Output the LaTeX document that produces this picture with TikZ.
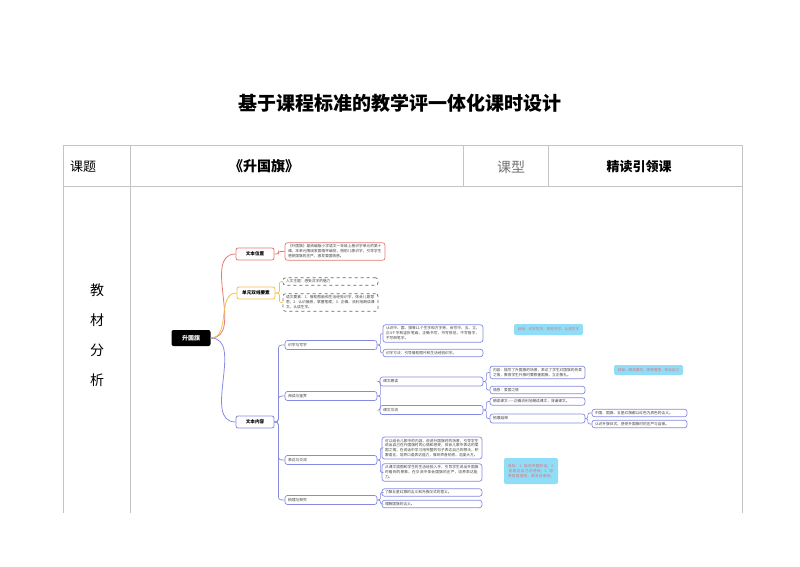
\documentclass[tikz,border=0pt]{standalone}
\usepackage{fontspec}
\setmainfont{Noto Sans CJK SC}
\usepackage{xcolor}
\usepackage{tikz}
\usetikzlibrary{positioning,calc}
\XeTeXlinebreaklocale "zh"
\XeTeXlinebreakskip = 0pt plus 1pt

\definecolor{branchred}{HTML}{E57A72}
\definecolor{branchyellow}{HTML}{F2C24B}
\definecolor{branchblue}{HTML}{858BE0}
\definecolor{notecyan}{HTML}{8FDDF7}
\definecolor{notetext}{HTML}{E0707A}
\definecolor{gridgray}{HTML}{C4C4C4}

\begin{document}
\begin{tikzpicture}[
  x=1pt, y=-1pt,
  every node/.style={inner sep=0pt},
  hdcell/.style={font=\fontsize{13}{15}\selectfont},
  maptopic/.style={draw, rounded corners=2pt, fill=white, line width=0.8pt,
    minimum width=38pt, minimum height=12pt,
    font=\bfseries\fontsize{4.6}{5}\selectfont},
  mapsub/.style={draw=branchblue, rounded corners=2.5pt, fill=white,
    line width=0.7pt, minimum height=9pt, text width=#1, align=left,
    inner xsep=3pt, font=\fontsize{3.8}{4.5}\selectfont, text=black!75},
  mapleaf/.style={draw=branchblue, rounded corners=2.5pt, fill=white,
    line width=0.7pt, text width=#1, align=left, inner xsep=3pt,
    inner ysep=2pt, font=\fontsize{3.7}{5}\selectfont, text=black!75},
  mapnote/.style={fill=notecyan, rounded corners=2pt, text=notetext,
    align=center, inner sep=2pt, font=\fontsize{3.6}{4.8}\selectfont},
  maplink/.style={draw=branchblue, line width=0.7pt, rounded corners=2pt}
]
\useasboundingbox (0,0) rectangle (800,566);

% title and table
\node[font=\bfseries\fontsize{19}{22}\selectfont] (title) at (400,103)
  {基于课程标准的教学评一体化课时设计};
\draw[gridgray, line width=0.6pt]
  (63,145) -- (742,145) (63,186) -- (742,186)
  (63,145) -- (63,513) (130,145) -- (130,513) (742,145) -- (742,513)
  (463,145) -- (463,186) (548,145) -- (548,186);
\node[hdcell] (hdtopic) at (83,167) {课题};
\node[hdcell, font=\bfseries\fontsize{14}{16}\selectfont] (hdname) at (264,166) {《升国旗》};
\node[hdcell, text=black!55, font=\fontsize{14}{16}\selectfont] (hdtype) at (511,167) {课型};
\node[hdcell, font=\bfseries\fontsize{13}{15}\selectfont] (hdkind) at (639,167) {精读引领课};
\node[align=center, font=\fontsize{14}{30}\selectfont] (hdside) at (97,335)
  {教\\材\\分\\析};

% mind map
\node[fill=black, text=white, rounded corners=2pt, minimum width=39pt,
  minimum height=16pt, font=\bfseries\fontsize{6}{7}\selectfont] (root) at (191,338) {升国旗};

\node[maptopic, draw=branchred] (pos) at (255,254) {文本位置};
\node[maptopic, draw=branchyellow] (dual) at (256,293) {单元双线要素};
\node[maptopic, draw=branchblue] (ctx) at (255,422) {文本内容};

\draw[branchred, line width=0.8pt] (root.east) to[out=0, in=180] (pos.west);
\draw[branchyellow, line width=0.8pt] (root.east) to[out=0, in=180] (dual.west);
\draw[branchblue, line width=0.8pt] (root.east) to[out=0, in=180] (ctx.west);

\node[mapleaf=94, draw=branchred] (posleaf) at (335,251.5)
  {《升国旗》是统编版小学语文一年级上册识字单元的第十课。本单元围绕家国情怀编排，借助儿歌识字，引导学生感受国旗的庄严，激发爱国情感。};
\node[mapleaf=89, draw=black!60, dashed] (dualA) at (330.5,281.5)
  {人文主题：感受汉字的魅力};
\node[mapleaf=89, draw=black!60, dashed] (dualB) at (330.5,302.5)
  {语文要素：1. 借助图画和生活经验识字，体会儿歌意思；2. 认识偏旁，掌握笔顺；3. 正确、流利地朗读课文，认读生字。};

\draw[branchred, line width=0.7pt, rounded corners=2pt] (pos.east) -- ++(4,0) |- (posleaf.west);
\foreach \n in {dualA,dualB}
  \draw[branchyellow, line width=0.7pt, rounded corners=2pt] (dual.east) -- ++(4,0) |- (\n.west);

% text content branch
\node[mapsub=86] (sxz) at (331,345) {识字与写字};
\node[mapsub=86] (ydjs) at (331,396) {阅读与鉴赏};
\node[mapsub=86] (bdjl) at (331,460) {表达与交流};
\node[mapsub=86] (slytj) at (331,500) {梳理与探究};
\foreach \n in {sxz,ydjs,bdjl,slytj}
  \draw[maplink, rounded corners=3pt] (ctx.east) -- ++(4,0) |- (\n.west);

\node[mapleaf=94] (sxzA) at (433,333.5)
  {认识中、国、旗等11个生字和方字旁，会写中、五、立、正4个字和竖折笔画，正确书写，书写规范，不写错字，不写倒笔字。};
\node[mapleaf=94] (sxzB) at (433,353) {识字方法：引导借助图片和生活经验识字。};
\foreach \n in {sxzA,sxzB}
  \draw[maplink] (sxz.east) -- ++(3,0) |- (\n.west);

\node[mapsub=97] (kwld) at (431.5,381.5) {课文朗读};
\node[mapsub=97] (kwjl) at (431.5,410) {课文交流};
\foreach \n in {kwld,kwjl}
  \draw[maplink] (ydjs.east) -- ++(3,0) |- (\n.west);

\node[mapleaf=89] (kwldA) at (537.5,372.5)
  {内容：描写了升国旗的场景，表达了学生对国旗的热爱之情，教育学生升旗时要尊重国旗，立正敬礼。};
\node[mapleaf=89] (kwldB) at (537.5,390) {情感：爱国之情};
\foreach \n in {kwldA,kwldB}
  \draw[maplink] (kwld.east) -- ++(3,0) |- (\n.west);

\node[mapleaf=89] (kwjlA) at (537.5,401.5) {朗读课文——正确流利地朗读课文，背诵课文。};
\node[mapsub=89] (kwjlB) at (537.5,418.5) {拓展延伸};
\foreach \n in {kwjlA,kwjlB}
  \draw[maplink] (kwjl.east) -- ++(3,0) |- (\n.west);

\node[mapleaf=89] (kwjlBa) at (639.5,413) {中国、国旗、五星红旗都以红色为底色的含义。};
\node[mapleaf=89] (kwjlBb) at (639.5,424) {认识升旗仪式，感受升国旗时的庄严与自豪。};
\foreach \n in {kwjlBa,kwjlBb}
  \draw[maplink] (kwjlB.east) -- ++(2.5,0) |- (\n.west);

\node[mapleaf=94, font=\fontsize{3.7}{4.8}\selectfont] (bdjlA) at (432,448)
  {可以结合儿歌中的内容，说说升国旗时的场景，引导学生说出自己在升国旗时的心情和感受，体会儿歌中表达的爱国之情；在说话中学习用完整的句子表达自己的想法，积累语言，培养口语表达能力，做到声音响亮、态度大方。};
\node[mapleaf=94] (bdjlB) at (432,472.5)
  {从课文插图和学生的生活经验入手，引导学生说出升国旗时看到的景象，在交流中体会国旗的庄严，培养表达能力。};
\foreach \n in {bdjlA,bdjlB}
  \draw[maplink] (bdjl.east) -- ++(3,0) |- (\n.west);

\node[mapleaf=94] (slytjA) at (432,492.5) {了解五星红旗的含义和升旗仪式的意义。};
\node[mapleaf=94] (slytjB) at (432,504) {理解国旗的含义。};
\foreach \n in {slytjA,slytjB}
  \draw[maplink] (slytj.east) -- ++(3,0) |- (\n.west);

% goal notes
\node[mapnote, minimum width=69pt, minimum height=11pt] (noteA) at (548.5,329.5)
  {目标：识字写字，规范书写，认读生字};
\node[mapnote, minimum width=69pt, minimum height=10pt] (noteB) at (648.5,370)
  {目标：朗读课文，感受情感，体会含义};
\node[mapnote, text width=50pt, minimum height=26pt] (noteC) at (531,471)
  {目标：1. 能说完整的话；2. 能表达自己的感受；3. 培养爱国情感，激发自豪感。};
\end{tikzpicture}
\end{document}
